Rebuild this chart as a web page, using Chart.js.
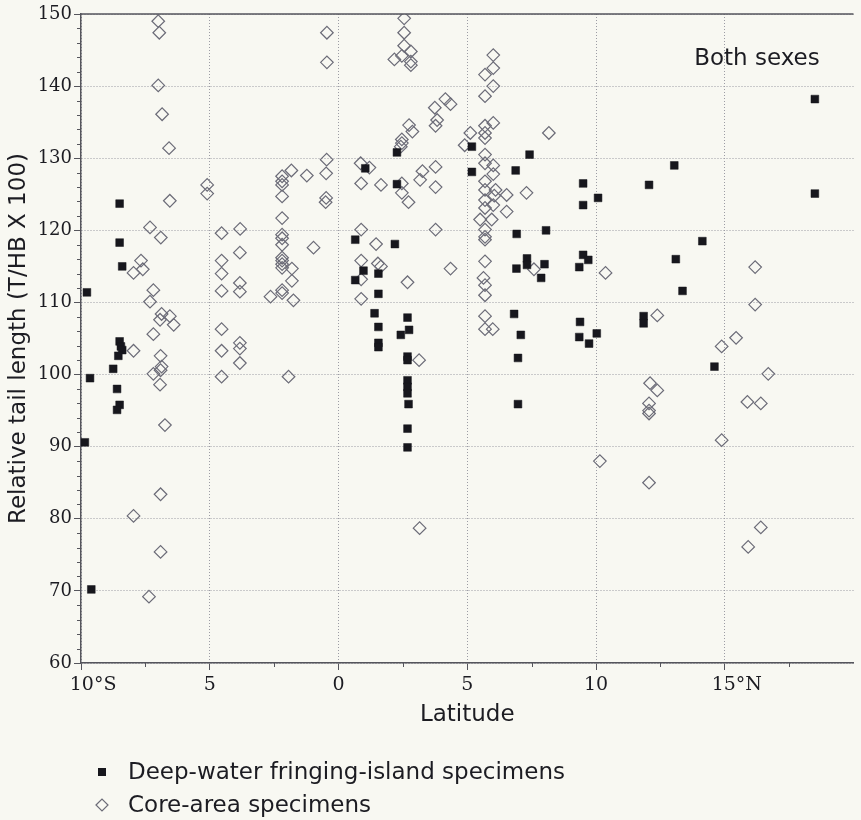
<!DOCTYPE html>
<html>
<head>
<meta charset="utf-8">
<script src="https://cdn.jsdelivr.net/npm/chart.js@4.4.1/dist/chart.umd.min.js"></script>
<style>
  html, body { margin: 0; padding: 0; background: #f8f8f2; }
  canvas { display: block; }
</style>
</head>
<body>
<canvas id="chart" width="861" height="820"></canvas>
<script>
// [latitude (south negative), relative tail length]
const deepWater = [
  [-9.77, 111.4], [-9.65, 99.5], [-9.85, 90.6], [-9.6, 70.2],
  [-8.5, 123.7], [-8.5, 118.3], [-8.4, 115.0],
  [-8.5, 104.6], [-8.45, 103.9], [-8.4, 103.4], [-8.55, 102.6], [-8.75, 100.8],
  [-8.6, 98.0], [-8.5, 95.8], [-8.6, 95.1],
  [0.65, 118.7], [0.65, 113.1], [0.97, 114.4], [1.04, 128.6],
  [1.55, 114.0], [1.55, 111.2], [1.4, 108.5], [1.55, 106.6], [1.55, 104.4], [1.55, 103.8],
  [2.27, 130.8], [2.27, 126.4], [2.19, 118.1], [2.68, 107.9], [2.74, 106.2], [2.42, 105.5],
  [2.68, 102.5], [2.68, 102.0], [2.68, 99.2], [2.68, 98.3], [2.68, 97.4], [2.72, 95.9],
  [2.68, 92.5], [2.68, 89.9],
  [5.18, 131.6], [5.18, 128.1],
  [6.88, 128.3], [7.42, 130.5], [6.92, 119.5], [8.06, 120.0], [6.91, 114.7], [7.32, 116.1],
  [7.32, 115.2], [8.0, 115.3], [7.87, 113.4], [6.82, 108.4], [7.08, 105.5], [6.97, 102.3], [6.97, 95.9],
  [9.5, 126.5], [9.5, 123.5], [10.08, 124.5], [12.06, 126.3], [13.04, 129.0],
  [14.13, 118.5], [13.1, 116.0], [13.36, 111.6], [9.5, 116.6], [9.7, 115.9], [9.35, 114.9],
  [9.38, 107.3], [9.35, 105.2], [9.73, 104.3], [10.03, 105.7], [11.85, 108.1], [11.85, 107.1],
  [14.6, 101.1], [18.5, 138.2], [18.5, 125.1]
];

const coreArea = [
  [-7.0, 149.0], [-6.96, 147.4], [-7.0, 140.1], [-6.85, 136.1], [-6.58, 131.4], [-6.55, 124.1],
  [-7.32, 120.4], [-6.9, 119.0], [-7.96, 114.1], [-7.67, 115.8], [-7.6, 114.6], [-7.19, 111.7],
  [-7.32, 110.1], [-6.87, 108.4], [-6.93, 107.6], [-6.55, 108.1], [-6.4, 106.9], [-7.19, 105.6],
  [-7.96, 103.3], [-6.91, 102.6], [-6.87, 101.1], [-7.19, 100.1], [-6.91, 100.6], [-6.93, 98.6],
  [-6.74, 93.0], [-7.96, 80.4], [-6.91, 83.4], [-6.91, 75.4], [-7.36, 69.2],
  [-5.1, 126.3], [-5.1, 125.1], [-4.54, 119.6], [-3.82, 120.2], [-4.54, 115.8], [-4.54, 114.0],
  [-4.54, 111.6], [-3.83, 116.9], [-3.83, 112.7], [-3.83, 111.5], [-4.54, 106.3], [-4.54, 103.3],
  [-4.54, 99.7], [-3.83, 104.4], [-3.83, 103.6], [-3.83, 101.6],
  [-2.19, 127.5], [-2.19, 126.8], [-2.19, 126.3], [-2.19, 124.7], [-2.19, 121.7], [-2.19, 119.4],
  [-2.19, 118.9], [-2.19, 118.0], [-2.19, 116.2], [-2.19, 115.8], [-2.19, 115.3], [-2.19, 114.8],
  [-2.19, 111.7], [-2.19, 111.3], [-1.83, 128.3], [-1.81, 114.7], [-1.81, 113.0], [-1.75, 110.3],
  [-2.64, 110.8], [-1.94, 99.7], [-1.23, 127.6], [-0.97, 117.6], [-0.45, 147.4], [-0.45, 143.3],
  [-0.46, 129.8], [-0.48, 127.9], [-0.48, 124.5], [-0.5, 123.9],
  [0.86, 129.3], [1.2, 128.7], [0.88, 126.5], [1.65, 126.3], [0.88, 120.1], [1.46, 118.1],
  [0.88, 115.8], [0.88, 113.2], [0.88, 110.5], [1.53, 115.4], [1.65, 115.0],
  [2.55, 149.4], [2.55, 147.4], [2.55, 145.6], [2.81, 144.8], [2.17, 143.7], [2.46, 144.2],
  [2.81, 143.4], [2.81, 142.9], [2.74, 134.6], [2.87, 133.7], [2.46, 132.6], [2.46, 132.1],
  [2.42, 131.6], [2.46, 126.5], [2.46, 125.2], [2.72, 123.9], [2.68, 112.8],
  [3.26, 128.2], [3.17, 127.0], [3.77, 128.8], [3.77, 126.0], [3.74, 137.0], [3.83, 135.3],
  [3.77, 134.5], [4.15, 138.2], [4.35, 137.5], [3.77, 120.1], [4.35, 114.7], [3.13, 102.0], [3.15, 78.7],
  [5.12, 133.5], [4.9, 131.8],
  [6.01, 144.3], [6.01, 142.5], [5.69, 141.6], [6.01, 140.0], [5.69, 138.6], [6.01, 134.9],
  [5.69, 134.5], [5.69, 133.5], [5.69, 132.8], [5.69, 130.5], [5.69, 129.3], [6.01, 129.0],
  [6.01, 127.8], [5.69, 126.8], [5.69, 125.6], [6.1, 125.6], [5.69, 124.2], [6.05, 124.8],
  [5.69, 123.1], [6.01, 123.5], [6.53, 124.9], [6.53, 122.6], [5.5, 121.5], [5.95, 121.5],
  [5.69, 120.1], [5.69, 119.1], [5.69, 118.7], [5.69, 115.7], [5.63, 113.4], [5.69, 112.4],
  [5.69, 111.0], [5.69, 108.1], [5.69, 106.3], [5.99, 106.3],
  [7.3, 125.2], [8.17, 133.5], [7.59, 114.6], [10.37, 114.1], [10.15, 88.0],
  [12.38, 108.2], [12.1, 98.8], [12.38, 97.8], [12.06, 96.0], [12.06, 95.0], [12.06, 94.6], [12.06, 85.0],
  [14.88, 103.9], [15.44, 105.1], [14.88, 90.9], [16.18, 114.9], [16.18, 109.7], [16.69, 100.1],
  [15.88, 96.2], [16.4, 96.0], [16.4, 78.8], [15.91, 76.1]
];

const xTicks = [-10, -5, 0, 5, 10, 15];
// figure spaces keep the number itself centred under its tick
const xTickLabels = ['\u2007\u200710°S', '5', '0', '5', '10', '\u2007\u200715°N'];
const yTicks = [60, 70, 80, 90, 100, 110, 120, 130, 140, 150];
const seriesNames = ['Deep-water fringing-island specimens', 'Core-area specimens'];
const panelLabel = 'Both sexes';

const ink = '#1c1c22';
const axisGrey = '#55555c';
const gridGrey = '#9c9ca4';
const sans = '"DejaVu Sans", sans-serif';
const serif = '"DejaVu Serif", serif';

const toXY = arr => arr.map(([x, y]) => ({ x, y }));

// minor ticks, top frame, panel label and the legend under the axis
const extras = {
  id: 'extras',
  afterDraw(chart) {
    const { ctx, chartArea: a } = chart;
    const { x, y } = chart.scales;
    ctx.save();
    ctx.strokeStyle = axisGrey;
    ctx.lineWidth = 1;
    ctx.beginPath();
    for (let v = x.min + 2.5; v < x.max; v += 2.5) {
      if (v % 5 === 0) continue;
      const px = Math.round(x.getPixelForValue(v)) + 0.5;
      ctx.moveTo(px, a.bottom);
      ctx.lineTo(px, a.bottom + 4);
    }
    for (let v = y.min + 2; v < y.max; v += 2) {
      if (v % 10 === 0) continue;
      const py = Math.round(y.getPixelForValue(v)) + 0.5;
      ctx.moveTo(a.left - 4, py);
      ctx.lineTo(a.left, py);
    }
    ctx.stroke();

    ctx.lineWidth = 1.5;
    ctx.beginPath();
    ctx.moveTo(a.left, a.top);
    ctx.lineTo(a.right, a.top);
    ctx.stroke();

    ctx.fillStyle = ink;
    ctx.font = '23px ' + sans;
    ctx.textAlign = 'center';
    ctx.textBaseline = 'middle';
    ctx.fillText(panelLabel, x.getPixelForValue(16.25), y.getPixelForValue(143.8));

    // legend
    ctx.textAlign = 'left';
    chart.data.datasets.forEach((ds, i) => {
      const ly = 772 + i * 33;
      const lx = 102;
      ctx.beginPath();
      if (ds.pointStyle === 'rect') {
        ctx.fillStyle = ds.backgroundColor;
        ctx.fillRect(lx - 4, ly - 4, 8, 8);
      } else {
        ctx.strokeStyle = ds.borderColor;
        ctx.lineWidth = ds.borderWidth;
        ctx.moveTo(lx - 6, ly);
        ctx.lineTo(lx, ly - 6);
        ctx.lineTo(lx + 6, ly);
        ctx.lineTo(lx, ly + 6);
        ctx.closePath();
        ctx.stroke();
      }
      ctx.fillStyle = ink;
      ctx.fillText(ds.label, 128, ly + 1);
    });
    ctx.restore();
  }
};

const bg = {
  id: 'bg',
  beforeDraw(chart) {
    const { ctx, width, height } = chart;
    ctx.save();
    ctx.fillStyle = '#f8f8f2';
    ctx.fillRect(0, 0, width, height);
    ctx.restore();
  }
};

new Chart(document.getElementById('chart'), {
  type: 'scatter',
  data: {
    datasets: [
      {
        label: seriesNames[0],
        data: toXY(deepWater),
        pointStyle: 'rect',
        pointRadius: 5.5,
        backgroundColor: '#17171d',
        borderColor: '#17171d',
        borderWidth: 0.5
      },
      {
        label: seriesNames[1],
        data: toXY(coreArea),
        pointStyle: 'rectRot',
        pointRadius: 6.3,
        backgroundColor: 'rgba(0,0,0,0)',
        borderColor: '#6c6c78',
        borderWidth: 1.2
      }
    ]
  },
  options: {
    responsive: false,
    animation: false,
    devicePixelRatio: 1,
    layout: { padding: { top: 14, right: 0, bottom: 0, left: 0 } },
    plugins: { legend: { display: false }, tooltip: { enabled: false } },
    scales: {
      x: {
        type: 'linear',
        min: -10,
        max: 20,
        afterBuildTicks: s => { s.ticks = xTicks.map(v => ({ value: v })); },
        afterFit: s => { s.height = 157; },
        ticks: {
          autoSkip: false,
          maxRotation: 0,
          padding: 4,
          color: ink,
          font: { family: serif, size: 19 },
          callback: (v, i) => xTickLabels[i]
        },
        grid: { color: gridGrey, lineWidth: 1, tickLength: 7, tickColor: axisGrey, tickWidth: 1 },
        border: { color: axisGrey, width: 1.5, dash: [1, 2] },
        title: {
          display: true,
          text: 'Latitude',
          color: ink,
          font: { family: sans, size: 23 },
          padding: { top: 0, bottom: 91 }
        }
      },
      y: {
        type: 'linear',
        min: 60,
        max: 150,
        afterBuildTicks: s => { s.ticks = yTicks.map(v => ({ value: v })); },
        afterFit: s => { s.width = 81; },
        ticks: {
          padding: 2,
          color: ink,
          font: { family: serif, size: 18 }
        },
        grid: { color: gridGrey, lineWidth: 1, tickLength: 7, tickColor: axisGrey, tickWidth: 1 },
        border: { color: axisGrey, width: 1.5, dash: [1, 2] },
        title: {
          display: true,
          text: 'Relative tail length (T/HB X 100)',
          color: ink,
          font: { family: sans, size: 23 },
          padding: { top: 5, bottom: 0 }
        }
      }
    }
  },
  plugins: [bg, extras]
});
</script>
</body>
</html>
